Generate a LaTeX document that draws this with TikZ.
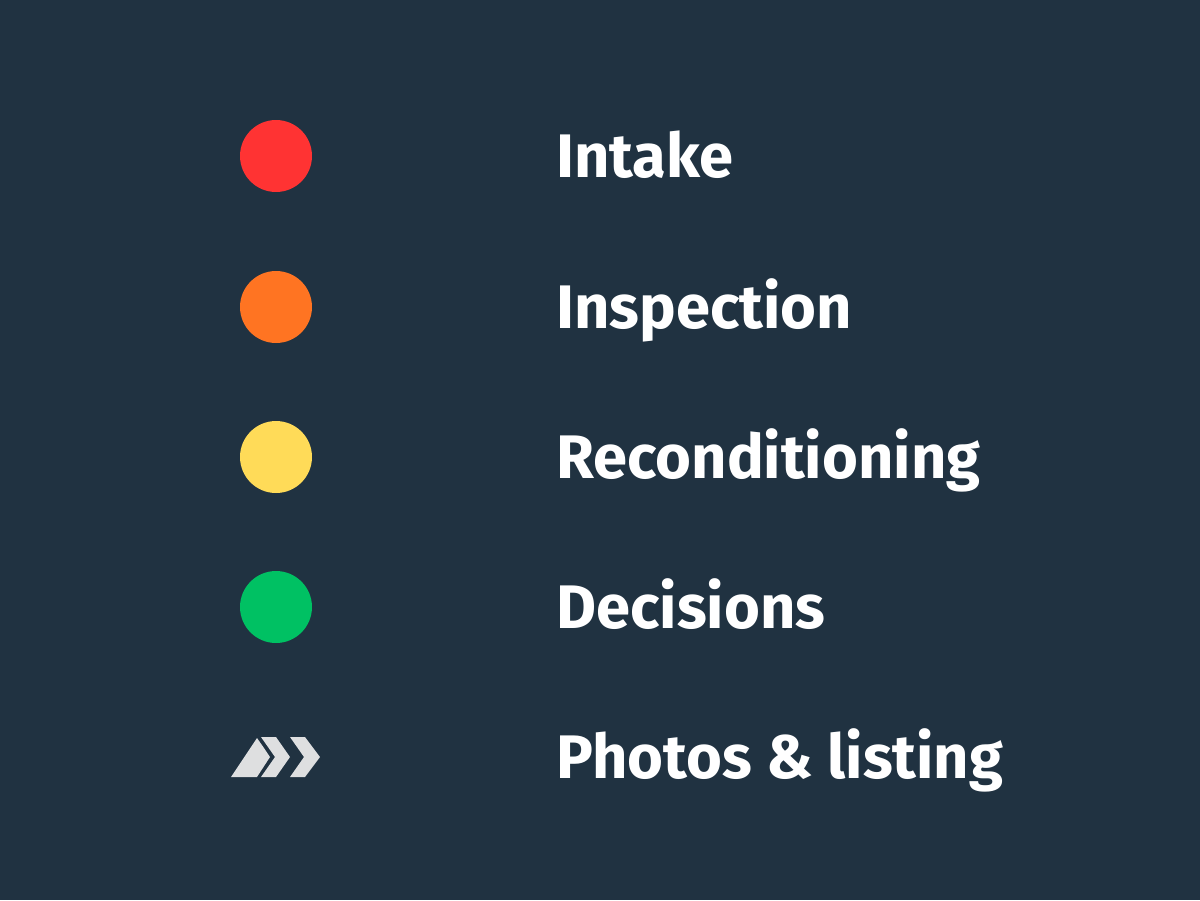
\documentclass[tikz,border=0pt]{standalone}
\usepackage{fontspec}
\setmainfont{Fira Sans}
\usepackage{tikz}
\usetikzlibrary{positioning}

\definecolor{bg}{HTML}{203241}
\definecolor{intakered}{HTML}{FF3333}
\definecolor{inspectorange}{HTML}{FF7422}
\definecolor{recondyellow}{HTML}{FFDB58}
\definecolor{decisiongreen}{HTML}{00C163}
\definecolor{chevgray}{HTML}{DEDFE0}

\tikzset{
  dot/.style={circle, minimum size=1.44cm, inner sep=0pt},
  label/.style={anchor=base west, inner sep=0pt, text=white,
    font=\fontsize{35}{40}\selectfont\bfseries}
}

\begin{document}
\begin{tikzpicture}[x=0.02cm, y=-0.02cm]
  \fill[bg] (0,0) rectangle (1200,900);

  \node[dot, fill=intakered] at (276,156) (intake) {};
  \node[dot, fill=inspectorange] at (276,307) (inspect) {};
  \node[dot, fill=recondyellow] at (276,457) (recond) {};
  \node[dot, fill=decisiongreen] at (276,607) (decide) {};

  % chevrons for the last row
  \fill[chevgray] (231,777) -- (257,738) -- (264,748) -- (270,757) -- (257,777) -- cycle;
  \fill[chevgray] (261,737) -- (276,737) -- (290,757) -- (276,777) -- (261,777) -- (275,757) -- cycle;
  \fill[chevgray] (290,737) -- (305,737) -- (320,757) -- (305,777) -- (290,777) -- (304,757) -- cycle;
  \coordinate (photos) at (276,757);

  \node[label] at (556,177) (intakelbl) {Intake};
  \node[label] at (556,328) (inspectlbl) {Inspection};
  \node[label] at (556,478) (recondlbl) {Reconditioning};
  \node[label] at (556,628) (decidelbl) {Decisions};
  \node[label] at (556,778) (photoslbl) {Photos \& listing};
\end{tikzpicture}
\end{document}
